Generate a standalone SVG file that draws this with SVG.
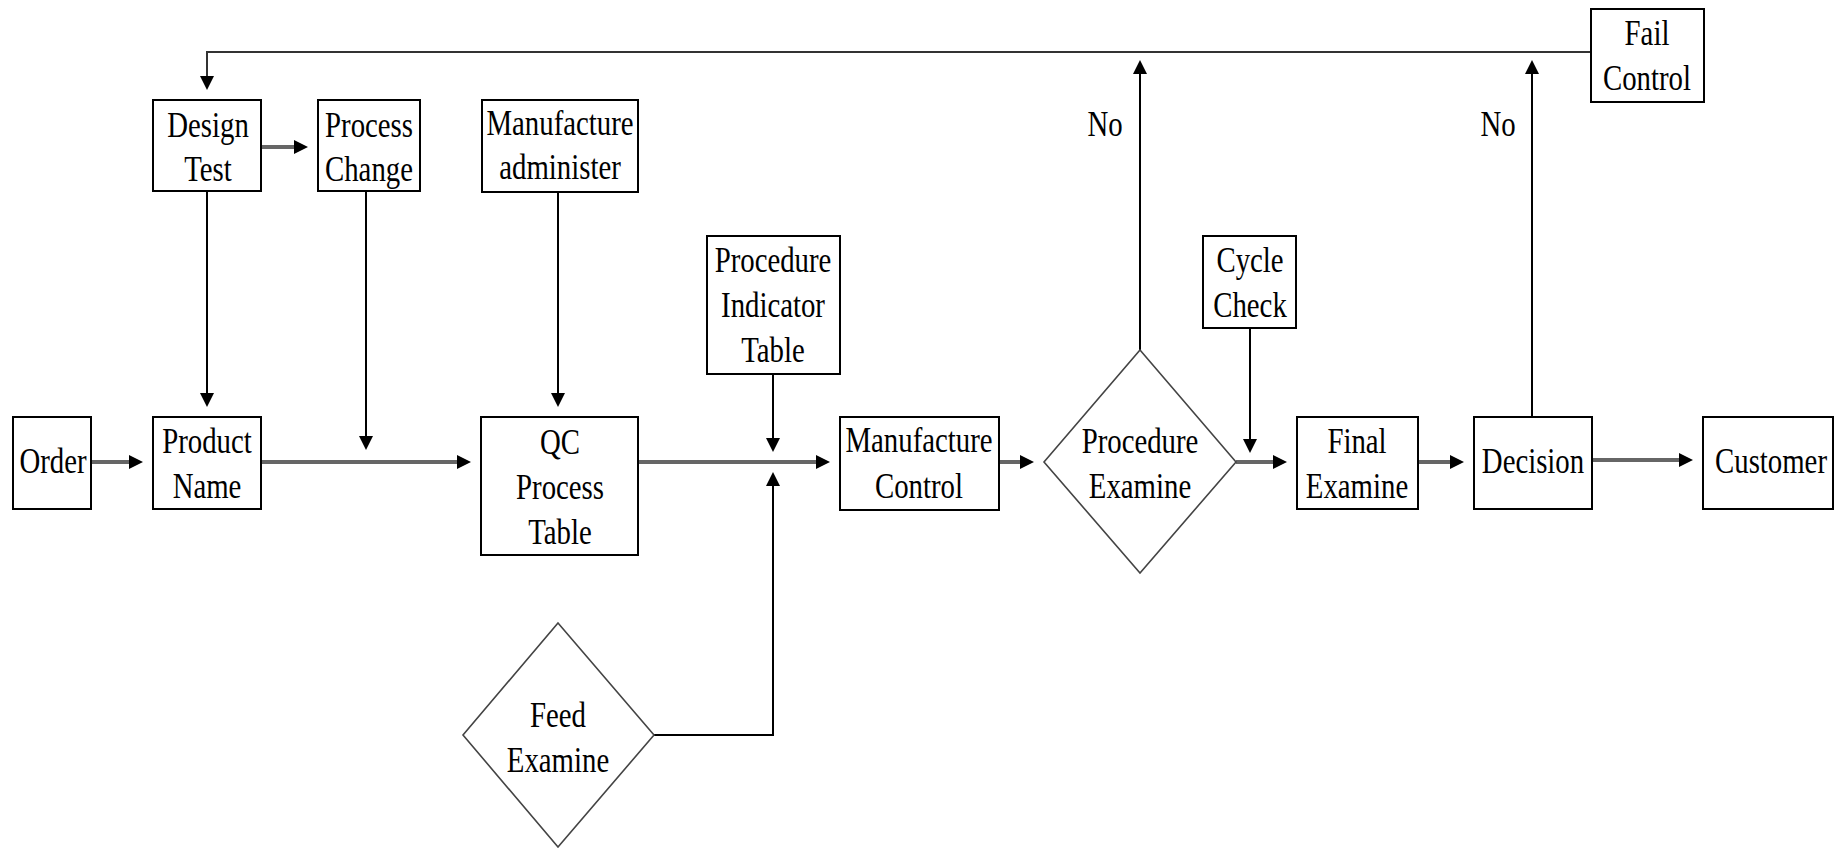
<svg xmlns="http://www.w3.org/2000/svg" width="1834" height="848" viewBox="0 0 1834 848">
<style>
.box{fill:#fff;stroke:#000;stroke-width:2}
.dia{fill:#fff;stroke:#444;stroke-width:1.6}
.t{font-family:"Liberation Serif","Times New Roman",serif;font-size:36px;fill:#000;text-anchor:middle}
.main{fill:none;stroke:#666;stroke-width:4}
.thin{fill:none;stroke:#000;stroke-width:2}
.top{fill:none;stroke:#333;stroke-width:2}
</style>
<defs>
<marker id="ah" markerUnits="userSpaceOnUse" markerWidth="14" markerHeight="14" refX="10" refY="7" orient="auto">
<path d="M0,0 L14,7 L0,14 z" fill="#000"/>
</marker>
</defs>
<rect width="1834" height="848" fill="#fff"/>
<g id="connectors">
<path class="main" d="M91,462 H139" marker-end="url(#ah)"/>
<path class="main" d="M261,462 H467" marker-end="url(#ah)"/>
<path class="thin" d="M366,191 V446" marker-end="url(#ah)"/>
<path class="thin" d="M207,191 V403" marker-end="url(#ah)"/>
<path class="main" d="M261,147 H304" marker-end="url(#ah)"/>
<path class="thin" d="M558,192 V403" marker-end="url(#ah)"/>
<path class="main" d="M638,462 H826" marker-end="url(#ah)"/>
<path class="thin" d="M773,374 V448" marker-end="url(#ah)"/>
<path class="thin" d="M654,735 H773 V476" marker-end="url(#ah)"/>
<path class="main" d="M999,462 H1030" marker-end="url(#ah)"/>
<path class="thin" d="M1140,350 V64" marker-end="url(#ah)"/>
<path class="main" d="M1236,462 H1283" marker-end="url(#ah)"/>
<path class="thin" d="M1250,328 V449" marker-end="url(#ah)"/>
<path class="main" d="M1418,462 H1460" marker-end="url(#ah)"/>
<path class="thin" d="M1532,417 V64" marker-end="url(#ah)"/>
<path class="main" d="M1592,460 H1689" marker-end="url(#ah)"/>
<path class="top" d="M1591,52 H207 V86" marker-end="url(#ah)"/>
</g>
<g id="label-no-1"><text class="t" transform="translate(1105 136) scale(0.8 1)">No</text></g>
<g id="label-no-2"><text class="t" transform="translate(1498 136) scale(0.8 1)">No</text></g>
<g id="order"><rect class="box" x="13" y="417" width="78" height="92"/><text class="t" transform="translate(53 473) scale(0.8 1)">Order</text></g>
<g id="product-name"><rect class="box" x="153" y="417" width="108" height="92"/><text class="t" transform="translate(207 453) scale(0.8 1)"><tspan x="0" y="0">Product</tspan><tspan x="0" y="45">Name</tspan></text></g>
<g id="design-test"><rect class="box" x="153" y="100" width="108" height="91"/><text class="t" transform="translate(208 137) scale(0.8 1)"><tspan x="0" y="0">Design</tspan><tspan x="0" y="44">Test</tspan></text></g>
<g id="process-change"><rect class="box" x="318" y="100" width="102" height="91"/><text class="t" transform="translate(369 137) scale(0.8 1)"><tspan x="0" y="0">Process</tspan><tspan x="0" y="44">Change</tspan></text></g>
<g id="manufacture-administer"><rect class="box" x="482" y="100" width="156" height="92"/><text class="t" transform="translate(560 135) scale(0.8 1)"><tspan x="0" y="0">Manufacture</tspan><tspan x="0" y="44">administer</tspan></text></g>
<g id="qc-process-table"><rect class="box" x="481" y="417" width="157" height="138"/><text class="t" transform="translate(560 454) scale(0.8 1)"><tspan x="0" y="0">QC</tspan><tspan x="0" y="45">Process</tspan><tspan x="0" y="90">Table</tspan></text></g>
<g id="procedure-indicator-table"><rect class="box" x="707" y="236" width="133" height="138"/><text class="t" transform="translate(773 272) scale(0.8 1)"><tspan x="0" y="0">Procedure</tspan><tspan x="0" y="45">Indicator</tspan><tspan x="0" y="90">Table</tspan></text></g>
<g id="feed-examine"><polygon class="dia" points="558,623 654,735 558,847 463,735"/><text class="t" transform="translate(558 727) scale(0.8 1)"><tspan x="0" y="0">Feed</tspan><tspan x="0" y="45">Examine</tspan></text></g>
<g id="manufacture-control"><rect class="box" x="840" y="417" width="159" height="93"/><text class="t" transform="translate(919 452) scale(0.8 1)"><tspan x="0" y="0">Manufacture</tspan><tspan x="0" y="46">Control</tspan></text></g>
<g id="procedure-examine"><polygon class="dia" points="1140,350 1236,462 1140,573 1044,462"/><text class="t" transform="translate(1140 453) scale(0.8 1)"><tspan x="0" y="0">Procedure</tspan><tspan x="0" y="45">Examine</tspan></text></g>
<g id="cycle-check"><rect class="box" x="1203" y="236" width="93" height="92"/><text class="t" transform="translate(1250 272) scale(0.8 1)"><tspan x="0" y="0">Cycle</tspan><tspan x="0" y="45">Check</tspan></text></g>
<g id="final-examine"><rect class="box" x="1297" y="417" width="121" height="92"/><text class="t" transform="translate(1357 453) scale(0.8 1)"><tspan x="0" y="0">Final</tspan><tspan x="0" y="45">Examine</tspan></text></g>
<g id="decision"><rect class="box" x="1474" y="417" width="118" height="92"/><text class="t" transform="translate(1533 473) scale(0.8 1)">Decision</text></g>
<g id="customer"><rect class="box" x="1703" y="417" width="130" height="92"/><text class="t" transform="translate(1771 473) scale(0.8 1)">Customer</text></g>
<g id="fail-control"><rect class="box" x="1591" y="9" width="113" height="93"/><text class="t" transform="translate(1647 45) scale(0.8 1)"><tspan x="0" y="0">Fail</tspan><tspan x="0" y="45">Control</tspan></text></g>
</svg>
